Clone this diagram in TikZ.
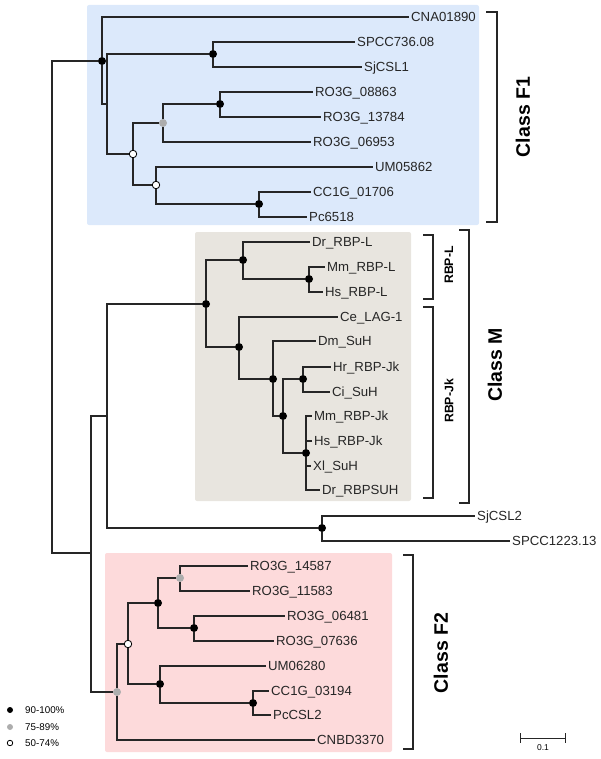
\documentclass[tikz,border=0pt]{standalone}
\usepackage{fontspec}
\setmainfont{Liberation Sans}
\definecolor{bgfone}{HTML}{DCE9FB}
\definecolor{bgm}{HTML}{E8E5DF}
\definecolor{bgftwo}{HTML}{FDDADB}
\begin{document}
\begin{tikzpicture}[x=1pt,y=-1pt,
    br/.style={draw=black!85,line width=1.1pt,line cap=rect},
    leaf/.style={anchor=west,inner xsep=3pt,inner ysep=0pt,text height=9.5pt,text depth=0pt,
      font=\fontsize{13.2}{15}\selectfont,text=black!85},
    hi/.style={circle,fill=black,inner sep=0pt,minimum size=8pt},
    mid/.style={circle,fill=black!32,inner sep=0pt,minimum size=8pt},
    lo/.style={circle,draw=black,fill=white,line width=0.8pt,inner sep=0pt,minimum size=7.5pt},
    brk/.style={draw=black!85,line width=1.3pt},
    cls/.style={rotate=90,inner sep=0pt,font=\fontsize{19.5}{22}\bfseries\selectfont},
    sub/.style={rotate=90,inner sep=0pt,font=\fontsize{12.3}{14}\bfseries\selectfont},
    key/.style={anchor=west,inner sep=0pt,font=\fontsize{9.8}{11}\selectfont}]
  \useasboundingbox (0,0) rectangle (600,759);
  % clade boxes
  \fill[bgfone,rounded corners=2pt] (87,5) rectangle (479,225);
  \fill[bgm,rounded corners=2pt] (195,232) rectangle (411,501);
  \fill[bgftwo,rounded corners=2pt] (105,553) rectangle (392,752);

  % inner nodes
  \coordinate (root) at (52,307);
  \coordinate (nR) at (91,553);
  \coordinate (nM) at (107,416);
  \coordinate (nB) at (107,104);
  \node[hi] (nA) at (102,61) {};
  \node[hi] (nC) at (213,54) {};
  \node[lo] (nD) at (133,154) {};
  \node[mid] (nE) at (163,123) {};
  \node[hi] (nG) at (220,104) {};
  \node[lo] (nF) at (156,185) {};
  \node[hi] (nH) at (259,204) {};
  \node[hi] (nMc) at (206,304) {};
  \node[hi] (nL) at (243,260) {};
  \node[hi] (nLL) at (309,279) {};
  \node[hi] (nJ) at (239,347) {};
  \node[hi] (nK) at (273,379) {};
  \node[hi] (nKb) at (283,416) {};
  \node[hi] (nHC) at (303,379) {};
  \node[hi] (nV) at (306,453) {};
  \node[hi] (nS) at (322,528) {};
  \node[mid] (nFt) at (117,692) {};
  \node[lo] (nW) at (128,644) {};
  \node[hi] (nX) at (158,603) {};
  \node[mid] (nXa) at (180,578) {};
  \node[hi] (nXb) at (194,628) {};
  \node[hi] (nY) at (160,684) {};
  \node[hi] (nZ) at (253,703) {};

  % leaves
  \node[leaf] (cna) at (408,17) {CNA01890};
  \node[leaf] (spcc) at (354,42) {SPCC736.08};
  \node[leaf] (sjone) at (361,67) {SjCSL1};
  \node[leaf] (roa) at (312,92) {RO3G\_08863};
  \node[leaf] (rob) at (320,117) {RO3G\_13784};
  \node[leaf] (roc) at (310,142) {RO3G\_06953};
  \node[leaf] (umone) at (372,167) {UM05862};
  \node[leaf] (ccone) at (310,192) {CC1G\_01706};
  \node[leaf] (pcone) at (306,217) {Pc6518};
  \node[leaf] (drl) at (309,242) {Dr\_RBP-L};
  \node[leaf] (mml) at (324,267) {Mm\_RBP-L};
  \node[leaf] (hsl) at (322,292) {Hs\_RBP-L};
  \node[leaf] (ce) at (337,317) {Ce\_LAG-1};
  \node[leaf] (dm) at (315,341) {Dm\_SuH};
  \node[leaf] (hr) at (330,367) {Hr\_RBP-Jk};
  \node[leaf] (ci) at (329,392) {Ci\_SuH};
  \node[leaf] (mmjk) at (311,416) {Mm\_RBP-Jk};
  \node[leaf] (hsjk) at (311,441) {Hs\_RBP-Jk};
  \node[leaf] (xl) at (310,466) {Xl\_SuH};
  \node[leaf] (drsuh) at (319,490) {Dr\_RBPSUH};
  \node[leaf] (sjtwo) at (474,516) {SjCSL2};
  \node[leaf] (spccb) at (509,541) {SPCC1223.13};
  \node[leaf] (rod) at (247,566) {RO3G\_14587};
  \node[leaf] (roe) at (249,591) {RO3G\_11583};
  \node[leaf] (rof) at (284,616) {RO3G\_06481};
  \node[leaf] (rog) at (273,641) {RO3G\_07636};
  \node[leaf] (umtwo) at (265,666) {UM06280};
  \node[leaf] (cctwo) at (268,691) {CC1G\_03194};
  \node[leaf] (pctwo) at (270,715) {PcCSL2};
  \node[leaf] (cnbd) at (314,740) {CNBD3370};

  % branches
  \draw[br] (root) |- (nA) (root) |- (nR);
  \draw[br] (nR) |- (nM) (nR) |- (nFt);
  \draw[br] (nA) |- (cna.west) (nA) |- (nB);
  \draw[br] (nB) |- (nC) (nB) |- (nD);
  \draw[br] (nC) |- (spcc.west) (nC) |- (sjone.west);
  \draw[br] (nD) |- (nE) (nD) |- (nF);
  \draw[br] (nE) |- (nG) (nE) |- (roc.west);
  \draw[br] (nG) |- (roa.west) (nG) |- (rob.west);
  \draw[br] (nF) |- (umone.west) (nF) |- (nH);
  \draw[br] (nH) |- (ccone.west) (nH) |- (pcone.west);
  \draw[br] (nM) |- (nMc) (nM) |- (nS);
  \draw[br] (nS) |- (sjtwo.west) (nS) |- (spccb.west);
  \draw[br] (nMc) |- (nL) (nMc) |- (nJ);
  \draw[br] (nL) |- (drl.west) (nL) |- (nLL);
  \draw[br] (nLL) |- (mml.west) (nLL) |- (hsl.west);
  \draw[br] (nJ) |- (ce.west) (nJ) |- (nK);
  \draw[br] (nK) |- (dm.west) (nK) |- (nKb);
  \draw[br] (nKb) |- (nHC) (nKb) |- (nV);
  \draw[br] (nHC) |- (hr.west) (nHC) |- (ci.west);
  \draw[br] (nV) |- (mmjk.west) (nV) |- (hsjk.west) (nV) |- (xl.west) (nV) |- (drsuh.west);
  \draw[br] (nFt) |- (nW) (nFt) |- (cnbd.west);
  \draw[br] (nW) |- (nX) (nW) |- (nY);
  \draw[br] (nX) |- (nXa) (nX) |- (nXb);
  \draw[br] (nXa) |- (rod.west) (nXa) |- (roe.west);
  \draw[br] (nXb) |- (rof.west) (nXb) |- (rog.west);
  \draw[br] (nY) |- (umtwo.west) (nY) |- (nZ);
  \draw[br] (nZ) |- (cctwo.west) (nZ) |- (pctwo.west);

  % brackets
  \draw[brk] (486,12) -| (497,222) -- (486,222);
  \draw[brk] (423,235) -| (433,299) -- (423,299);
  \draw[brk] (423,307) -| (433,498) -- (423,498);
  \draw[brk] (459,230) -| (469,503) -- (459,503);
  \draw[brk] (403,555) -| (413,749) -- (403,749);
  \node[cls] (lFone) at (523,117) {Class F1};
  \node[cls] (lM) at (495,365) {Class M};
  \node[cls] (lFtwo) at (441,653) {Class F2};
  \node[sub] (lL) at (449,265) {RBP-L};
  \node[sub] (lJk) at (449,401) {RBP-Jk};

  % key
  \node[hi,minimum size=6pt] (kA) at (10,710) {};
  \node[mid,minimum size=6pt] (kB) at (10,727) {};
  \node[lo,minimum size=5.5pt] (kC) at (10,743) {};
  \node[key] (kAt) at (25,710) {90-100\%};
  \node[key] (kBt) at (25,727) {75-89\%};
  \node[key] (kCt) at (25,743) {50-74\%};

  % scale
  \draw[black!85,line width=1pt] (520,733) -- (520,743) (520,738) -- (565,738) (565,733) -- (565,743);
  \node[font=\fontsize{8.5}{10}\selectfont,inner sep=0pt] (sc) at (543,748) {0.1};
\end{tikzpicture}
\end{document}
